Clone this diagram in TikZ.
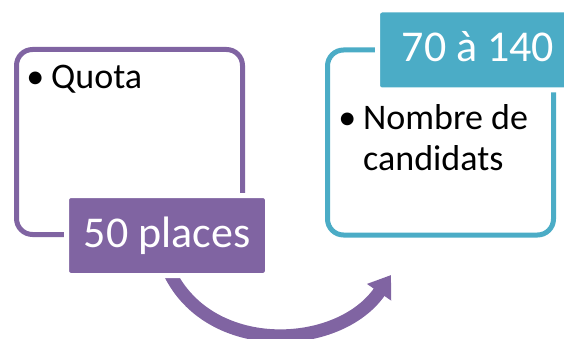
\documentclass[tikz,border=0pt]{standalone}
\usepackage{fontspec}
\setmainfont{Carlito}
\usetikzlibrary{arrows.meta,backgrounds}

\definecolor{quotapurple}{RGB}{128,100,162}
\definecolor{rangeblue}{RGB}{75,172,198}

\tikzset{
    frame/.style={draw, line width=5pt, rounded corners=16pt, minimum width=226pt, minimum height=185pt, inner sep=0pt},
    tag/.style={draw=white, line width=5pt, rounded corners=4pt, text=white, minimum width=201pt, minimum height=80pt,
        font=\fontsize{44}{50}\selectfont, text height=32pt, text depth=8pt, inner sep=0pt},
    bullettext/.style={font=\fontsize{36}{41}\selectfont, inner sep=0pt, align=left},
    flow/.style={draw=quotapurple, line width=13pt, -{Triangle[length=21pt,width=28pt]}}
}

\begin{document}
\begin{tikzpicture}[x=1pt, y=-1pt]
    \useasboundingbox (0,0) rectangle (564,339);

    % Quota
    \node[frame, draw=quotapurple] (quotabox) at (129.5,142) {};
    \node[bullettext, anchor=base west] (quota) at (51,89) {\llap{\textbullet\hspace{7pt}}Quota};
    \node[tag, fill=quotapurple] (places) at (167,235.5) {50 places};

    % Candidats
    \node[frame, draw=rangeblue] (candbox) at (440.5,142.5) {};
    \node[bullettext, anchor=base west] (nombre) at (363,171) {\llap{\textbullet\hspace{7pt}}Nombre de\\candidats};
    \node[tag, fill=rangeblue] (range) at (478,50) {70 à 140};

    % arrow
    \coordinate (tip) at (391,275);
    \begin{scope}[on background layer]
        \draw[flow] ([yshift=11pt]places.south) .. controls (205,357) and (338,352) .. (tip);
    \end{scope}
\end{tikzpicture}
\end{document}
